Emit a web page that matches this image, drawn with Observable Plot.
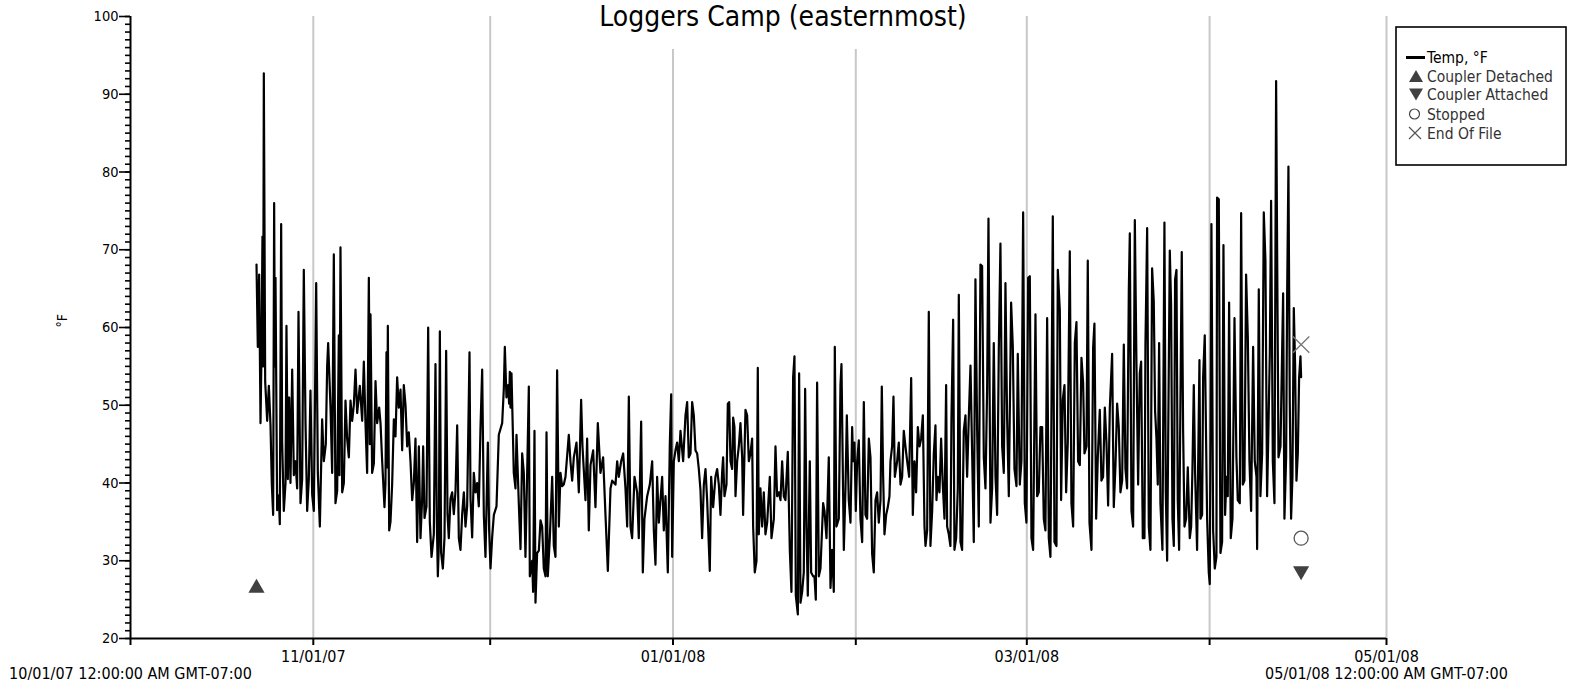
<!DOCTYPE html>
<html>
<head>
<meta charset="utf-8">
<script src="https://cdn.jsdelivr.net/npm/d3@7"></script>
<script src="https://cdn.jsdelivr.net/npm/@observablehq/plot@0.6"></script>
<style>
  body { margin: 0; background: #fff; }
  #wrap { position: relative; width: 1578px; height: 688px; overflow: hidden; background: #fff; }
  #wrap svg { display: block; }
  #overlay { position: absolute; left: 0; top: 0; pointer-events: none; }
  .cf { font-family: "DejaVu Sans Condensed", "DejaVu Sans", sans-serif; font-stretch: condensed; }
</style>
</head>
<body>
<div id="wrap"></div>
<script>
// ---- Data (days since 10/01/07 00:00, temperature °F) ----
const tempDay = [
21.37,21.59,21.82,22.05,22.21,22.38,22.50,22.61,22.84,23.18,23.46,23.74,23.97,24.19,24.36,24.48,24.59,24.87,25.15,25.32,
25.55,25.72,26.00,26.29,26.45,26.68,26.91,27.13,27.42,27.70,27.98,28.26,28.49,28.83,29.11,29.39,29.68,29.96,30.24,30.52,
30.81,31.09,31.49,31.77,32.11,32.50,32.79,33.12,33.35,33.52,33.92,34.20,34.48,34.76,35.05,35.33,35.44,35.61,35.90,36.18,
36.46,36.74,37.03,37.31,37.59,37.87,38.16,38.44,38.89,39.29,39.57,39.85,40.13,40.42,40.59,40.70,40.98,41.27,41.55,41.83,
42.17,42.40,42.68,43.07,43.24,43.41,43.53,43.64,43.87,44.09,44.37,44.66,44.94,45.22,45.50,45.79,46.07,46.35,46.64,46.92,
47.20,47.48,47.77,48.05,48.33,48.61,48.90,49.18,49.46,49.63,49.86,50.20,50.48,50.76,51.05,51.44,51.72,51.95,52.12,52.29,
52.46,52.68,52.97,53.25,53.53,53.76,53.98,54.27,54.55,54.83,55.12,55.40,55.68,55.96,56.25,56.53,56.81,57.09,57.49,57.66,
57.94,58.22,58.51,58.79,59.07,59.35,59.64,59.92,60.20,60.60,60.82,61.05,61.33,61.62,62.07,62.46,
63.03,63.31,63.48,63.76,64.04,64.21,64.33,64.44,64.61,64.84,65.00,65.29,65.46,65.85,66.14,66.42,66.70,66.98,67.27,67.55,
67.72,68.11,68.28,68.51,68.68,68.96,69.25,69.53,69.81,70.09,70.38,70.55,70.77,71.11,71.51,71.79,72.07,72.35,72.64,72.92,
73.20,73.48,73.77,74.33,74.61,74.90,75.18,75.63,76.03,76.42,76.65,77.16,77.44,77.72,78.01,78.46,78.85,79.25,79.70,80.15,
80.55,80.95,81.40,81.68,82.25,82.53,82.81,83.21,83.55,83.94,84.23,84.51,84.79,85.07,85.47,85.92,86.20,86.60,86.88,87.16,
87.62,88.07,88.47,88.75,89.03,89.31,89.60,90.16,90.44,90.73,91.12,91.46,91.69,91.86,92.14,92.42,92.70,92.99,93.27,93.72,
94.12,94.40,94.68,94.97,95.25,95.53,95.81,96.10,96.38,96.66,96.94,97.23,97.51,97.79,98.24,98.47,98.81,
99.20,99.49,99.77,100.05,100.33,100.50,100.73,101.07,101.30,101.52,101.75,102.03,102.20,102.42,102.60,102.88,103.16,103.44,103.73,103.89,
104.29,104.57,104.86,105.14,105.42,105.59,105.87,106.16,106.38,106.55,106.83,107.12,107.40,107.68,107.97,108.42,108.70,109.10,109.38,109.66,
109.94,110.23,110.51,110.79,111.07,111.47,111.81,112.09,112.37,112.60,112.83,113.17,113.39,113.62,113.90,114.18,114.41,114.64,114.86,115.20,
115.43,115.77,115.99,116.22,116.44,116.73,117.01,117.46,117.69,118.03,118.42,118.71,118.99,119.27,119.44,119.72,120.12,120.40,120.57,120.97,
121.25,121.48,121.81,122.10,122.38,122.55,122.78,123.00,123.23,123.51,123.79,124.08,124.36,124.64,124.92,125.21,125.49,125.77,126.05,126.34,
126.62,126.90,127.19,127.41,127.64,127.86,128.15,128.43,128.71,128.88,129.16,129.39,129.62,130.01,130.29,130.58,130.86,131.14,131.42,131.71,
132.05,132.39,132.67,132.95,133.23,133.52,133.80,134.08,134.37,134.65,134.82,135.10,135.38,135.66,135.95,
136.23,136.51,136.68,136.91,137.19,137.47,137.75,138.04,138.32,138.49,138.77,139.05,139.22,139.51,139.73,140.02,140.30,140.47,140.75,141.03,
141.31,141.60,141.88,142.16,142.45,142.73,143.01,143.29,143.58,143.86,144.14,144.42,144.71,144.99,145.27,145.50,145.84,146.12,146.40,146.69,
146.97,147.25,147.53,147.82,148.10,148.38,148.66,148.95,149.34,149.63,149.91,150.25,150.47,150.81,151.09,151.38,151.66,151.94,152.23,152.51,
152.79,153.07,153.47,153.75,154.03,154.32,154.60,154.88,155.16,155.45,155.73,156.01,156.41,156.69,157.03,157.26,157.60,157.82,158.10,158.39,
158.67,158.95,159.29,159.57,159.86,160.14,160.42,160.70,160.99,161.27,161.55,161.78,162.12,162.34,162.63,162.97,163.25,163.47,163.76,164.04,
164.38,164.66,164.94,165.23,165.51,165.79,166.08,166.47,166.75,167.04,167.32,167.60,167.88,168.17,168.45,168.73,169.01,169.30,169.47,169.75,
170.03,170.32,170.60,170.88,171.16,171.39,171.67,171.95,172.12,172.41,172.69,172.97,
173.25,173.53,173.76,173.99,174.21,174.44,174.66,175.00,175.34,175.57,175.80,176.25,176.47,176.70,176.93,177.15,177.38,177.60,177.83,178.28,
178.51,178.74,179.02,179.30,179.64,179.87,180.09,180.32,180.54,180.88,181.28,181.45,181.73,181.90,182.18,182.58,182.86,183.03,183.31,183.60,
183.88,184.16,184.27,184.56,184.84,185.12,185.35,185.63,185.86,186.08,186.31,186.59,186.88,187.22,187.55,187.78,188.12,188.35,188.63,188.91,
189.19,189.48,189.76,190.04,190.38,190.66,190.95,191.06,191.34,191.62,191.91,192.19,192.47,192.75,192.92,193.21,193.43,193.72,194.00,194.28,
194.45,194.68,195.02,195.47,195.69,195.98,196.15,196.37,196.60,196.82,197.05,197.28,197.50,197.73,197.96,198.18,198.41,198.52
];
const tempF = [
68.1,57.5,66.8,47.7,56.6,71.7,55,92.7,53,48,52.5,47.5,39.8,35.9,76,55,66.4,36.5,38.4,34.7,
73.3,45.2,36.4,40,60.2,40.5,51,40,54.6,41,42.8,39.3,62,37.4,40.5,67.4,47.7,36.4,40.5,51.9,
38.5,36.4,65.7,41.3,34.4,48.2,42.8,45,55,58,49.7,41.3,69.4,37.4,39,59,41,70.3,38.8,40,
50.6,45.7,43.3,50.6,48,50,54.6,49,52.5,48,55.6,47.7,41.3,66.4,45,61.7,41.3,42.5,53.1,47.7,
49.7,47.7,42.8,36.9,40,56.8,42,60.2,33.9,35,39.8,48.2,46,53.6,49.7,52,44.2,52.6,50,44.7,
46.5,42.8,37.8,40,45.7,32.4,44.7,32.9,38,44.7,35.5,37,60,35,30.5,33.4,55.3,35,28,32,
59.5,31,29,33,57,36,32.9,38,38.8,36,39,47.4,32.9,31.4,36,38.8,34.4,37,56.8,38,
33,41.3,38.8,40,37,47,54.6,35.9,30.5,45.2,34,29,33,35.9,37,46.2,
47.7,52.1,57.5,51,52.6,50.2,54.3,49.7,54.1,46.7,41.3,39.3,46.2,37.4,31.5,43.8,41.3,30.5,41.3,52.4,
28,30,26,46.7,24.6,31,31.3,35.2,34.4,29,28,46.5,28,32.9,40.8,31.9,30.5,54.5,34.4,41.3,
39.6,39.8,40.8,46.2,42.8,40.3,43.3,45.2,38.8,50.7,44.7,37.8,45.7,33.9,42.3,44.2,36.9,47.7,41.3,43.3,
35.9,28.7,39.3,40.3,39.8,42.8,40.8,42.8,43.8,39.3,34.4,51.1,34.4,32.9,40.8,38.8,32.9,47.9,28.5,35.4,
38.3,39.8,42.8,33.9,29.5,40.8,34.9,40.8,33.9,38.3,28.5,45,51.4,30.5,42.8,44.2,45.2,42.8,46.7,42.8,
48.7,50.4,43.3,43.8,50.4,48.7,44.2,43.8,41.8,39.1,32.9,39.8,41.8,37.8,28.7,40.8,36.9,
40.8,41.8,39.8,35.9,41.3,43.3,38.3,39.8,50.2,50.4,42.8,41.8,48.4,47.2,38.3,42.8,44.7,47.7,43.3,35.9,
49.4,48.7,42.8,43.8,45.7,34.4,28.5,30,54.8,33.4,39.3,34.4,38.8,33.4,34.9,40.8,32.9,35.4,44.7,38.3,
38.8,37.8,42.8,38.3,37.8,44,31.4,26,53.6,56.3,25.5,23.1,54.1,24.6,26,28.5,52.1,34.4,25.5,42.8,
28.5,28,28,25,52.9,28,29,37.4,36.4,32.9,43.3,26.5,31.4,26,57.5,34.4,35.4,52.6,55.3,31.4,
39.3,48.7,37.8,34.9,47.2,42.8,45.2,36.4,42.8,45.5,35.4,32.4,50.4,35.9,35.4,45.7,43.3,30.9,28.5,37.8,
38.8,34.9,37.8,52.4,40.8,33.4,35.9,36.9,38.3,42.8,44.7,51.1,40.8,42.8,45.2,39.8,40.8,46.7,44.7,42.8,
40.8,53.5,35.9,42.8,38.8,47.2,44.7,45.7,48.7,34.4,31.9,33.9,62,31.9,36.4,
43.8,47.4,37.8,40.8,38.8,45.7,39.8,35.4,52.6,34.4,33.4,31.9,48.2,61,31.4,32.9,39.3,64.2,32.4,31.4,
46.7,48.7,40.8,48.4,55.1,43.8,32.4,66.2,46.7,34.4,68.1,67.9,43.3,39.3,52.1,74,34.9,39.3,58,40.8,
35.9,57,70.8,44.7,41.3,65.7,48.4,38.3,63.2,57.5,41.8,39.6,56.6,39.8,42.8,74.8,37.4,34.9,66.4,66.6,
32.9,31.4,61.7,38.3,38.8,47.2,47.2,35.4,33.9,61.2,32.9,30.5,74.3,32.4,31.9,67.4,62.2,37.8,50.7,52.6,
38.8,45.2,69.8,37.4,34.4,58,60.7,42.8,42.3,56.1,52.9,43.8,44.7,68.6,34.9,31.4,57.5,60.5,35.4,43.3,
49.4,40.3,40.8,49.7,45.2,37.1,49.7,56.6,36.9,42.3,50.2,47.2,38.8,40.3,57.8,41.8,39.3,64.7,72.1,36.4,
34.4,73.8,55.1,39.8,54.1,55.6,32.9,32.9,57.8,72.8,34.4,31.4,
67.6,63.4,49.2,45.7,39.8,58,37.4,31.4,73.5,38.8,30,69.9,63,35.4,31.9,66.2,67.4,37.8,31.4,69.7,
46.7,34.4,35.4,42,32.9,34.4,41.8,52.6,41.3,31.4,55.8,35.4,35.9,53.6,59,35.4,28.5,27,73.3,33.9,
29,30.5,76.7,76.5,31,32.4,70.6,35.9,40.8,38.3,63.2,32.9,35.4,61.2,43.3,37.8,37.4,74.7,39.8,40.3,
66.8,58.8,42.8,36.4,57.5,42.8,40.8,31.5,64.9,38.3,43.8,74.8,68.6,38.3,44.7,56.6,76.3,42.8,37.4,91.7,
70.3,43.3,44.7,64.4,35.4,43.3,64.2,80.7,50.2,35.4,40.8,62.5,55.1,40.3,43.8,53.6,56.3,53.6
];
const eventName = ["Coupler Detached", "Coupler Attached", "Stopped", "End Of File"];
const eventDay  = [21.37, 198.52, 198.52, 198.52];
const eventF    = [26.5, 28.7, 32.9, 57.8];

const yMajorTicks = [20, 30, 40, 50, 60, 70, 80, 90, 100];
const monthTicks = ["2007-10-01","2007-11-01","2007-12-01","2008-01-01","2008-02-01","2008-03-01","2008-04-01","2008-05-01"];
const labeledTicks = ["2007-11-01","2008-01-01","2008-03-01","2008-05-01"];
const rangeLabelDates = ["2007-10-01","2008-05-01"];
const rangeLabels = ["10/01/07 12:00:00 AM GMT-07:00", "05/01/08 12:00:00 AM GMT-07:00"];
const titleText = "Loggers Camp (easternmost)";
const yLabel = "°F";
const legendLabels = ["Temp, °F", "Coupler Detached", "Coupler Attached", "Stopped", "End Of File"];

// ---- Build ----
const t0 = Date.UTC(2007, 9, 1);
const toDate = d => new Date(t0 + d * 864e5);
const parse = s => new Date(s + "T00:00:00Z");
const temp = tempDay.map((d, i) => ({t: toDate(d), v: tempF[i]}));
const events = eventName.map((n, i) => ({name: n, t: toDate(eventDay[i]), v: eventF[i]}));
const months = monthTicks.map(parse);
const gridMonths = months.slice(1);
const ev = n => events.filter(e => e.name === n);
const fontFam = '"DejaVu Sans Condensed", "DejaVu Sans", sans-serif';

const chart = Plot.plot({
  width: 1578, height: 688,
  marginLeft: 130, marginRight: 192, marginTop: 16, marginBottom: 50,
  x: {type: "utc", domain: [parse(monthTicks[0]), parse(monthTicks[monthTicks.length - 1])]},
  y: {domain: [20, 100]},
  style: {fontFamily: fontFam, fontStretch: "condensed", fontSize: "16px", color: "#000", background: "transparent"},
  marks: [
    Plot.ruleX(gridMonths, {stroke: "#c8c8c8", strokeWidth: 2}),
    Plot.line(temp, {x: "t", y: "v", stroke: "#000", strokeWidth: 2.2}),
    Plot.axisY(d3.range(20, 101, 1), {tickSize: 5, text: null, strokeWidth: 1.6, label: null}),
    Plot.axisY(yMajorTicks, {tickSize: 11, tickPadding: 1, fontSize: 14.5, strokeWidth: 1.6, label: null}),
    Plot.ruleX([parse(monthTicks[0])], {stroke: "#000", strokeWidth: 2}),
    Plot.ruleY([20], {stroke: "#000", strokeWidth: 2}),
    Plot.axisX(months, {tickSize: 7, text: null, strokeWidth: 2, label: null}),
    Plot.axisX(labeledTicks.map(parse), {tickSize: 0, tickPadding: 12, tickFormat: d3.utcFormat("%m/%d/%y"), fontSize: 16, label: null}),
    Plot.text(rangeLabelDates.map((d, i) => ({t: parse(d), s: rangeLabels[i]})), {x: "t", text: "s", frameAnchor: "bottom", lineAnchor: "top", dy: 29, fontSize: 16}),
    Plot.text([yLabel], {frameAnchor: "left", dx: -68, rotate: -90, fontSize: 14}),
    Plot.dot(ev("Coupler Detached"), {x: "t", y: "v", symbol: "triangle", r: 6, fill: "#404040", stroke: "none"}),
    Plot.dot(ev("Coupler Attached"), {x: "t", y: "v", symbol: "triangle", rotate: 180, r: 6, fill: "#404040", stroke: "none"}),
    Plot.dot(ev("Stopped"), {x: "t", y: "v", symbol: "circle", r: 7, fill: "none", stroke: "#555", strokeWidth: 1.3}),
    Plot.dot(ev("End Of File"), {x: "t", y: "v", symbol: "times", r: 7.5, stroke: "#777", strokeWidth: 1.3})
  ]
});
const wrap = document.getElementById("wrap");
wrap.appendChild(chart);

// ---- Title and legend overlay ----
const ov = d3.select(wrap).append("svg").attr("id", "overlay").attr("width", 1578).attr("height", 688)
  .attr("class", "cf");
ov.append("rect").attr("x", 560).attr("y", 0).attr("width", 440).attr("height", 49).attr("fill", "#fff");
ov.append("text").attr("x", 783).attr("y", 26).attr("text-anchor", "middle")
  .attr("font-size", 28).attr("font-family", fontFam).attr("fill", "#000").text(titleText);

const lg = ov.append("g").attr("font-family", fontFam).attr("font-size", 15.5);
lg.append("rect").attr("x", 1396).attr("y", 27).attr("width", 170).attr("height", 138)
  .attr("fill", "#fff").attr("stroke", "#000").attr("stroke-width", 1.6);
const rowY = [57.5, 76, 94.5, 114, 133];
lg.append("line").attr("x1", 1406).attr("x2", 1425).attr("y1", rowY[0]).attr("y2", rowY[0])
  .attr("stroke", "#000").attr("stroke-width", 3);
lg.append("path").attr("d", `M1409,${rowY[1]+6}L1423,${rowY[1]+6}L1416,${rowY[1]-6}Z`).attr("fill", "#404040");
lg.append("path").attr("d", `M1409,${rowY[2]-6}L1423,${rowY[2]-6}L1416,${rowY[2]+6}Z`).attr("fill", "#404040");
lg.append("circle").attr("cx", 1414.5).attr("cy", rowY[3]).attr("r", 5).attr("fill", "none")
  .attr("stroke", "#444").attr("stroke-width", 1.2);
lg.append("path").attr("d", `M1409,${rowY[4]-6}L1421,${rowY[4]+6}M1409,${rowY[4]+6}L1421,${rowY[4]-6}`)
  .attr("stroke", "#555").attr("stroke-width", 1.2);
legendLabels.forEach((s, i) => {
  lg.append("text").attr("x", 1427).attr("y", rowY[i] + 5.6).attr("fill", i === 0 ? "#000" : "#333").text(s);
});
</script>
</body>
</html>
